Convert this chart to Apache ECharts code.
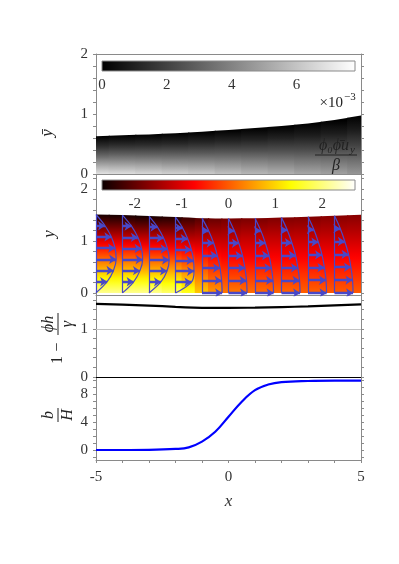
<!DOCTYPE html>
<html lang="en">

<head>
  <meta charset='utf-8'>
  <title>film flow over a step</title>
  <style>html, body { margin: 0; padding: 0; background: #fff; }</style>
</head>

<body>
  <div id="myCharts" style="width: 399px;height:564px;"></div>
  <script src="https://cdn.jsdelivr.net/npm/echarts@6/dist/echarts.min.js"></script>
  <script type="text/javascript">
    // shared x range and its labels
    var xRange = [-5, 5];
    var xTickLabels = [-5, 0, 5];

    // panel 1: surface height and gray field (x 10^-3), rows are s = y / h
    var fieldRows = [0, 0.25, 0.5, 0.75, 1];
    var grayX = [-5, -4, -3, -2, -1, 0, 1, 2, 3, 4, 5];
    var grayH = [0.63, 0.645, 0.66, 0.68, 0.705, 0.735, 0.765, 0.80, 0.84, 0.90, 0.975];
    var grayField = [
      [6.9, 5.0, 3.0, 1.3, 0],
      [6.8, 4.9, 3.0, 1.3, 0],
      [6.6, 4.8, 2.9, 1.25, 0],
      [6.4, 4.6, 2.8, 1.2, 0],
      [6.2, 4.5, 2.7, 1.15, 0],
      [5.9, 4.3, 2.6, 1.1, 0],
      [5.6, 4.1, 2.45, 1.05, 0],
      [5.4, 3.9, 2.35, 1.0, 0],
      [5.1, 3.7, 2.2, 0.95, 0],
      [4.9, 3.5, 2.1, 0.9, 0],
      [4.6, 3.3, 2.0, 0.85, 0]
    ];
    var grayRange = [0, 7.8];
    var grayTicks = [0, 2, 4, 6];

    // panel 2: hot field
    var hotX = [-5, -4, -3, -2, -1.5, -1, -0.5, 0, 1, 2, 3, 4, 5];
    var hotH = [1.51, 1.50, 1.48, 1.46, 1.45, 1.44, 1.435, 1.435, 1.44, 1.45, 1.465, 1.485, 1.505];
    var hotField = [
      [2.1, 0.95, -0.2, -1.4, -2.6],
      [2.1, 0.95, -0.2, -1.4, -2.6],
      [2.1, 0.9, -0.25, -1.4, -2.6],
      [1.9, 0.8, -0.35, -1.4, -2.5],
      [1.5, 0.55, -0.45, -1.4, -2.3],
      [0.9, 0.2, -0.55, -1.35, -2.1],
      [0.5, -0.1, -0.7, -1.3, -1.95],
      [0.25, -0.25, -0.75, -1.3, -1.85],
      [0.15, -0.3, -0.8, -1.25, -1.8],
      [0.1, -0.35, -0.8, -1.25, -1.75],
      [0.05, -0.35, -0.8, -1.25, -1.75],
      [0.0, -0.4, -0.8, -1.25, -1.7],
      [0.0, -0.4, -0.8, -1.25, -1.7]
    ];
    var hotRange = [-2.7, 2.7];
    var hotTicks = [-2, -1, 0, 1, 2];

    // velocity profiles: base x, local depth, arrow levels (s) and arrow lengths
    var profX = [-5, -4, -3, -2, -1, 0, 1, 2, 3, 4];
    var profH = [1.51, 1.50, 1.48, 1.46, 1.44, 1.435, 1.44, 1.45, 1.465, 1.485];
    var levelsMid = [0.143, 0.286, 0.429, 0.571, 0.714, 0.857];
    var levelsBed = [0, 0.167, 0.333, 0.5, 0.667, 0.833];
    var profS = [levelsMid, levelsMid, levelsMid, levelsMid, levelsBed, levelsBed, levelsBed, levelsBed, levelsBed, levelsBed];
    var profU = [
      [0.42, 0.66, 0.76, 0.72, 0.58, 0.34],
      [0.42, 0.66, 0.76, 0.72, 0.58, 0.34],
      [0.45, 0.68, 0.76, 0.70, 0.55, 0.32],
      [0.60, 0.70, 0.68, 0.60, 0.46, 0.27],
      [0.76, 0.74, 0.68, 0.58, 0.44, 0.25],
      [0.70, 0.68, 0.62, 0.53, 0.39, 0.22],
      [0.70, 0.68, 0.62, 0.53, 0.39, 0.22],
      [0.70, 0.68, 0.62, 0.53, 0.39, 0.22],
      [0.70, 0.68, 0.62, 0.53, 0.39, 0.22],
      [0.70, 0.68, 0.62, 0.53, 0.39, 0.22]
    ];

    // panel 3: 1 - phi h / gamma
    var gapX = [-5, -4, -3, -2, -1, 0, 1, 2, 3, 4, 5];
    var gapY = [1.515, 1.50, 1.48, 1.455, 1.435, 1.432, 1.438, 1.45, 1.465, 1.485, 1.505];

    // panel 4: b / H
    var bedX = [-5, -4, -3, -2, -1.5, -1, -0.5, 0, 0.5, 1, 1.5, 2, 3, 4, 5];
    var bedY = [0, 0, 0.02, 0.15, 0.38, 1.2, 2.6, 4.75, 6.9, 8.55, 9.35, 9.7, 9.86, 9.9, 9.9];

    // y ranges and ticks per panel
    var yRange1 = [0, 2], yLabels1 = [0, 1, 2], yTicks1 = [0, 0.2, 0.4, 0.6, 0.8, 1, 1.2, 1.4, 1.6, 1.8, 2];
    var yRange2 = [-0.04, 2.29], yLabels2 = [0, 1, 2], yTicks2 = [0, 0.2, 0.4, 0.6, 0.8, 1, 1.2, 1.4, 1.6, 1.8, 2, 2.2];
    var yRange3 = [0, 1.7], yLabels3 = [0, 1], yTicks3 = [0, 0.2, 0.4, 0.6, 0.8, 1, 1.2, 1.4, 1.6];
    var yRange4 = [-1.43, 10.43], yLabels4 = [0, 4, 8], yTicks4 = [-1, 0, 1, 2, 3, 4, 5, 6, 7, 8, 9, 10];

    var FONT = 'Liberation Serif';
    var frameColor = '#8a8a8a';
    var labelColor = '#333';
    var arrowColor = '#4848c8';

    function grayColor(v) {
      var t = Math.max(0, Math.min(1, (v - grayRange[0]) / (grayRange[1] - grayRange[0])));
      var c = Math.round(255 * t);
      return 'rgb(' + c + ',' + c + ',' + c + ')';
    }
    // matplotlib "hot"
    function hotColor(v) {
      var t = Math.max(0, Math.min(1, (v - hotRange[0]) / (hotRange[1] - hotRange[0])));
      var r = t < 0.365 ? 0.0416 + 0.9584 * t / 0.365 : 1;
      var g = t < 0.365 ? 0 : (t < 0.746 ? (t - 0.365) / 0.381 : 1);
      var b = t < 0.746 ? 0 : (t - 0.746) / 0.254;
      return 'rgb(' + Math.round(r * 255) + ',' + Math.round(g * 255) + ',' + Math.round(b * 255) + ')';
    }

    // one custom series per field: every column is a polygon filled with a vertical gradient
    function fieldSeries(xi, yi, xs, hs, field, colorOf) {
      return {
        type: 'custom', xAxisIndex: xi, yAxisIndex: yi, silent: true, clip: true, z: 1,
        data: xs.map(function (x, i) { return [x, hs[i]]; }),
        renderItem: function (params, api) {
          var i = params.dataIndex, n = xs.length;
          var x = xs[i], h = hs[i];
          var xl = i > 0 ? (xs[i - 1] + x) / 2 : x;
          var xr = i < n - 1 ? (xs[i + 1] + x) / 2 : x;
          var hl = i > 0 ? (hs[i - 1] + h) / 2 : h;
          var hr = i < n - 1 ? (hs[i + 1] + h) / 2 : h;
          var p0 = api.coord([xl, 0]), p1 = api.coord([xr, 0]);
          var p2 = api.coord([xr, hr]), p3 = api.coord([x, h]), p4 = api.coord([xl, hl]);
          // pad half a pixel so neighbours leave no seam
          p0[0] -= 0.6; p4[0] -= 0.6; p1[0] += 0.6; p2[0] += 0.6;
          var stops = [];
          var vals = field[i];
          for (var j = 0; j < fieldRows.length - 1; j++) {
            for (var k = 0; k < 4; k++) {
              var f = k / 4;
              stops.push({
                offset: fieldRows[j] + f * (fieldRows[j + 1] - fieldRows[j]),
                color: colorOf(vals[j] + f * (vals[j + 1] - vals[j]))
              });
            }
          }
          stops.push({ offset: 1, color: colorOf(vals[vals.length - 1]) });
          return {
            type: 'polygon',
            shape: { points: [p0, p1, p2, p3, p4] },
            style: {
              fill: new echarts.graphic.LinearGradient(0, p0[1], 0, p3[1], stops, true),
              stroke: null
            }
          };
        }
      };
    }

    function colorbarSeries(xi, yi, range, stops) {
      return {
        type: 'custom', xAxisIndex: xi, yAxisIndex: yi, silent: true, clip: false,
        data: [[range[0], range[1]]],
        renderItem: function (params, api) {
          var a = api.coord([api.value(0), 1]), b = api.coord([api.value(1), 0]);
          return {
            type: 'rect',
            shape: { x: a[0], y: a[1], width: b[0] - a[0], height: b[1] - a[1] },
            style: { fill: new echarts.graphic.LinearGradient(0, 0, 1, 0, stops), stroke: frameColor, lineWidth: 1 }
          };
        }
      };
    }

    function yAxisPair(gi, range, labels, ticks) {
      var base = {
        type: 'value', gridIndex: gi, min: range[0], max: range[1],
        axisLine: { show: true, onZero: false, lineStyle: { color: frameColor, width: 1 } },
        axisTick: { show: true, customValues: ticks, length: 3, lineStyle: { color: frameColor } },
        splitLine: { show: false }
      };
      var left = Object.assign({}, base, {
        position: 'left',
        axisLabel: { show: true, customValues: labels, margin: 8, fontFamily: FONT, fontSize: 15, color: labelColor }
      });
      var right = Object.assign({}, base, { position: 'right', axisLabel: { show: false } });
      return [left, right];
    }

    function xAxisFor(gi, pos, color, opts) {
      return Object.assign({
        type: 'value', gridIndex: gi, min: xRange[0], max: xRange[1], interval: 1, position: pos,
        axisLine: { show: true, onZero: false, lineStyle: { color: color, width: 1 } },
        axisTick: { show: false },
        axisLabel: { show: false },
        splitLine: { show: false }
      }, opts || {});
    }

    var myChart = echarts.init(document.getElementById('myCharts'));

    var series = [];
    series.push(fieldSeries(0, 0, grayX, grayH, grayField, grayColor));
    series.push(fieldSeries(2, 2, hotX, hotH, hotField, hotColor));

    // profile base lines and arrows
    var baseLines = [], arrows = [];
    profX.forEach(function (x, i) {
      baseLines.push({ coords: [[x, 0], [x, profH[i]]] });
      profS[i].forEach(function (s, k) {
        arrows.push({ coords: [[x, s * profH[i]], [x + profU[i][k], s * profH[i]]] });
      });
      var pts = [];
      if (profS[i][0] > 0) pts.push([x, 0]);
      profS[i].forEach(function (s, k) { pts.push([x + profU[i][k], s * profH[i]]); });
      pts.push([x, profH[i]]);
      series.push({
        type: 'line', xAxisIndex: 2, yAxisIndex: 2, data: pts, smooth: 0.35, showSymbol: false,
        silent: true, z: 3, lineStyle: { color: arrowColor, width: 1.2 }
      });
    });
    series.push({
      type: 'lines', coordinateSystem: 'cartesian2d', xAxisIndex: 2, yAxisIndex: 2, silent: true, z: 3,
      data: baseLines, symbol: 'none', lineStyle: { color: arrowColor, width: 1.2, opacity: 1 }
    });
    series.push({
      type: 'lines', coordinateSystem: 'cartesian2d', xAxisIndex: 2, yAxisIndex: 2, silent: true, z: 4,
      data: arrows, symbol: ['none', 'arrow'], symbolSize: 7,
      lineStyle: { color: arrowColor, width: 2.4, opacity: 1 }
    });

    // panel 3
    series.push({
      type: 'line', xAxisIndex: 3, yAxisIndex: 4, data: gapX.map(function (x, i) { return [x, gapY[i]]; }),
      smooth: true, showSymbol: false, silent: true, lineStyle: { color: '#000', width: 2.2 },
      markLine: {
        silent: true, symbol: 'none', label: { show: false },
        lineStyle: { color: '#c4c4c4', width: 1, type: 'solid' },
        data: [{ yAxis: 1 }]
      }
    });
    // panel 4
    series.push({
      type: 'line', xAxisIndex: 4, yAxisIndex: 6, data: bedX.map(function (x, i) { return [x, bedY[i]]; }),
      smooth: 0.4, showSymbol: false, silent: true, lineStyle: { color: '#0000ff', width: 2.2 }
    });
    // colorbars
    series.push(colorbarSeries(5, 8, grayRange, [{ offset: 0, color: '#000' }, { offset: 1, color: '#fff' }]));
    series.push(colorbarSeries(6, 9, hotRange, [
      { offset: 0, color: 'rgb(11,0,0)' }, { offset: 0.365, color: 'rgb(255,0,0)' },
      { offset: 0.746, color: 'rgb(255,255,0)' }, { offset: 1, color: '#fff' }
    ]));

    var yAxes = [].concat(
      yAxisPair(0, yRange1, yLabels1, yTicks1),
      yAxisPair(1, yRange2, yLabels2, yTicks2),
      yAxisPair(2, yRange3, yLabels3, yTicks3),
      yAxisPair(3, yRange4, yLabels4, yTicks4),
      [
        { type: 'value', gridIndex: 4, min: 0, max: 1, show: false },
        { type: 'value', gridIndex: 5, min: 0, max: 1, show: false }
      ]
    );

    var cbLabel = { show: true, margin: 7, fontFamily: FONT, fontSize: 15, color: labelColor };
    var xAxes = [
      xAxisFor(0, 'bottom', frameColor),
      xAxisFor(0, 'top', frameColor),
      xAxisFor(1, 'bottom', frameColor),
      xAxisFor(2, 'bottom', '#000'),
      xAxisFor(3, 'bottom', frameColor, {
        axisTick: { show: true, length: 3, lineStyle: { color: frameColor } },
        axisLabel: { show: true, customValues: xTickLabels, margin: 10, fontFamily: FONT, fontSize: 15, color: labelColor },
        name: 'x', nameLocation: 'middle', nameGap: 33,
        nameTextStyle: { fontFamily: FONT, fontStyle: 'italic', fontSize: 17, color: labelColor }
      }),
      { type: 'value', gridIndex: 4, min: grayRange[0], max: grayRange[1], axisLine: { show: false },
        axisTick: { show: false }, splitLine: { show: false }, axisLabel: Object.assign({ customValues: grayTicks }, cbLabel) },
      { type: 'value', gridIndex: 5, min: hotRange[0], max: hotRange[1], axisLine: { show: false },
        axisTick: { show: false }, splitLine: { show: false }, axisLabel: Object.assign({ customValues: hotTicks }, cbLabel) }
    ];

    function txt(x, y, s, size, italic, align) {
      return {
        type: 'text', x: x, y: y, silent: true, z: 10,
        style: {
          text: s, fontFamily: FONT, fontSize: size, fontStyle: italic ? 'italic' : 'normal',
          fill: '#222', align: align || 'center', verticalAlign: 'middle'
        }
      };
    }
    function bar(x1, y1, x2, y2) {
      return { type: 'line', silent: true, z: 10, shape: { x1: x1, y1: y1, x2: x2, y2: y2 }, style: { stroke: '#222', lineWidth: 1 } };
    }

    var graphics = [
      Object.assign(txt(48, 133, 'ȳ', 17, true), { rotation: Math.PI / 2 }),
      Object.assign(txt(50, 234, 'y', 17, true), { rotation: Math.PI / 2 }),
      {
        type: 'group', x: 58, y: 335, rotation: Math.PI / 2, silent: true,
        children: [
          txt(-25, 0, '1', 16, false), txt(-12, 0, '\u2212', 16, false),
          bar(0, 0, 22, 0), txt(11, -9, '\u03d5h', 16, true), txt(11, 10, '\u03b3', 16, true)
        ]
      },
      {
        type: 'group', x: 58, y: 415, rotation: Math.PI / 2, silent: true,
        children: [txt(0, -9, 'b', 16, true), bar(-7, 0, 7, 0), txt(0, 10, 'H', 16, true)]
      },
      // colorbar exponent
      txt(343, 103, '\u00d710', 15, false, 'right'),
      txt(344, 97, '\u22123', 11, false, 'left'),
      // field label in panel 1
      txt(349, 146, '\u03d5\u2080\u03d5\u0304u', 16, true, 'right'),
      txt(350, 150, 'y', 11, true, 'left'),
      bar(315, 155, 357, 155),
      txt(336, 166, '\u03b2', 16, true)
    ];

    var chartOption = {
      animation: false,
      backgroundColor: '#fff',
      grid: [
        { left: 96, width: 265, top: 54, height: 120 },
        { left: 96, width: 265, top: 174, height: 121 },
        { left: 96, width: 265, top: 295, height: 82 },
        { left: 96, width: 265, top: 377, height: 83 },
        { left: 102, width: 253, top: 61, height: 10 },
        { left: 102, width: 253, top: 180, height: 10 }
      ],
      xAxis: xAxes,
      yAxis: yAxes,
      series: series,
      graphic: graphics
    };
    myChart.setOption(chartOption);
  </script>
</body>

</html>
